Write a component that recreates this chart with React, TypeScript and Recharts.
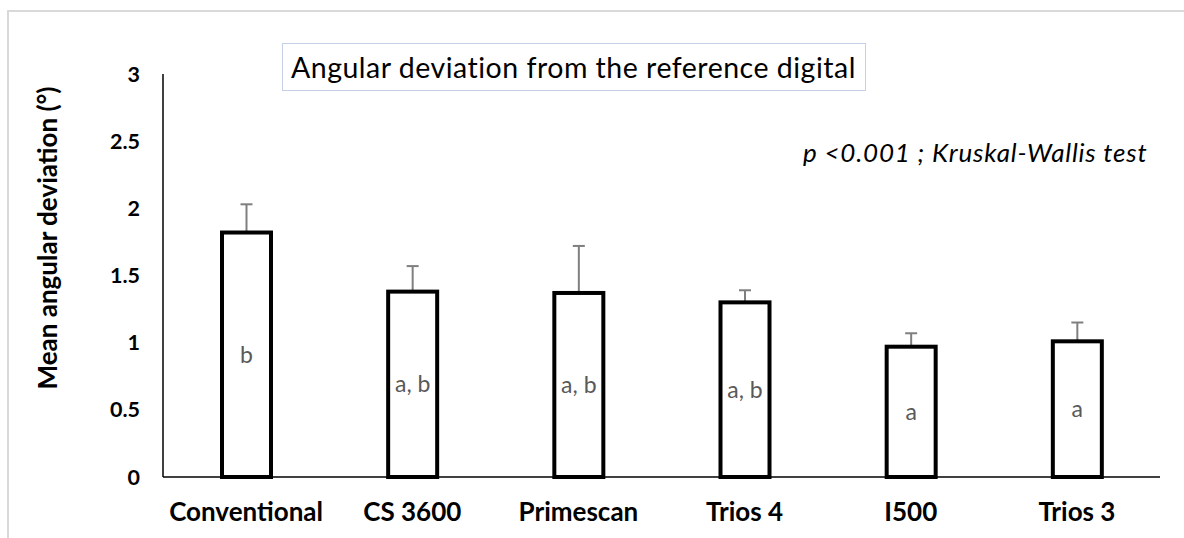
import React from 'react';
import { BarChart, Bar, XAxis, YAxis, LabelList } from 'recharts';

const categories = ['Conventional', 'CS 3600', 'Primescan', 'Trios 4', 'I500', 'Trios 3'];
const means = [1.82, 1.38, 1.37, 1.3, 0.97, 1.01];
const sds = [0.21, 0.19, 0.35, 0.09, 0.1, 0.14];
const groups = ['b', 'a, b', 'a, b', 'a, b', 'a', 'a'];
const yTicks = [0, 0.5, 1, 1.5, 2, 2.5, 3];

const data = categories.map((name, i) => ({ name, mean: means[i], sd: sds[i], group: groups[i] }));

const FONT = 'Lato, Carlito, Calibri, sans-serif';

// bar outline + upward-only error whisker, scaled from the bar's own height
const BarWithError = (props: any) => {
  const { x, y, width, height, payload } = props;
  if (!height || !payload) return null;
  const pxPerUnit = height / payload.mean;
  const top = y - payload.sd * pxPerUnit;
  const cx = x + width / 2;
  return (
    <g>
      <line x1={cx} y1={y} x2={cx} y2={top} stroke="#7f7f7f" strokeWidth={2} />
      <line x1={cx - 6} y1={top} x2={cx + 6} y2={top} stroke="#7f7f7f" strokeWidth={2} />
      <rect x={x} y={y} width={width} height={height} fill="#fff" stroke="#000" strokeWidth={4} />
    </g>
  );
};

export default function App() {
  return (
    <div style={{ position: 'relative', width: 1184, height: 538, overflow: 'hidden', background: '#fff', fontFamily: FONT }}>
      <style>{'body{margin:0;overflow:hidden}'}</style>
      <div
        style={{
          position: 'absolute',
          left: 7,
          top: 10,
          width: 1300,
          height: 700,
          borderTop: '2px solid #d9d9d9',
          borderLeft: '2px solid #d9d9d9',
        }}
      />
      <div style={{ position: 'absolute', left: 0, top: 0 }}>
        <BarChart width={1184} height={538} data={data} margin={{ top: 74, right: 24, bottom: 31, left: 103 }}>
          <XAxis
            dataKey="name"
            height={30}
            axisLine={{ stroke: '#000', strokeWidth: 1.5 }}
            tickLine={false}
            tickSize={6}
            tickMargin={20}
            tick={{ fontSize: 26, fontWeight: 700, fill: '#000', fontFamily: FONT }}
            interval={0}
          />
          <YAxis
            width={60}
            domain={[0, 3]}
            ticks={yTicks}
            axisLine={{ stroke: '#000', strokeWidth: 1.5 }}
            tickLine={false}
            tickSize={6}
            tickMargin={17}
            tick={{ fontSize: 21.5, fontWeight: 700, fill: '#000', fontFamily: FONT }}
          />
          <Bar dataKey="mean" barSize={49} shape={BarWithError} isAnimationActive={false}>
            <LabelList
              dataKey="group"
              position="center"
              style={{ fontSize: 23, fill: '#595959', fontFamily: FONT }}
            />
          </Bar>
        </BarChart>
      </div>
      <div
        style={{
          position: 'absolute',
          left: 47,
          top: 238,
          transform: 'translate(-50%, -50%) rotate(-90deg)',
          whiteSpace: 'nowrap',
          fontSize: 26,
          fontWeight: 700,
          color: '#000',
        }}
      >
        Mean angular deviation (°)
      </div>
      <div
        style={{
          position: 'absolute',
          left: 282,
          top: 43,
          width: 584,
          height: 48,
          boxSizing: 'border-box',
          border: '1.5px solid #c5d0e6',
          display: 'flex',
          alignItems: 'center',
          paddingLeft: 8,
          fontSize: 28.5,
          letterSpacing: 0.5,
          color: '#000',
          whiteSpace: 'nowrap',
        }}
      >
        Angular deviation from the reference digital
      </div>
      <div
        style={{
          position: 'absolute',
          left: 803,
          top: 136,
          fontSize: 26,
          letterSpacing: 0.8,
          fontStyle: 'italic',
          color: '#000',
          whiteSpace: 'nowrap',
        }}
      >
        p &lt;0.001 ; Kruskal-Wallis test
      </div>
    </div>
  );
}
